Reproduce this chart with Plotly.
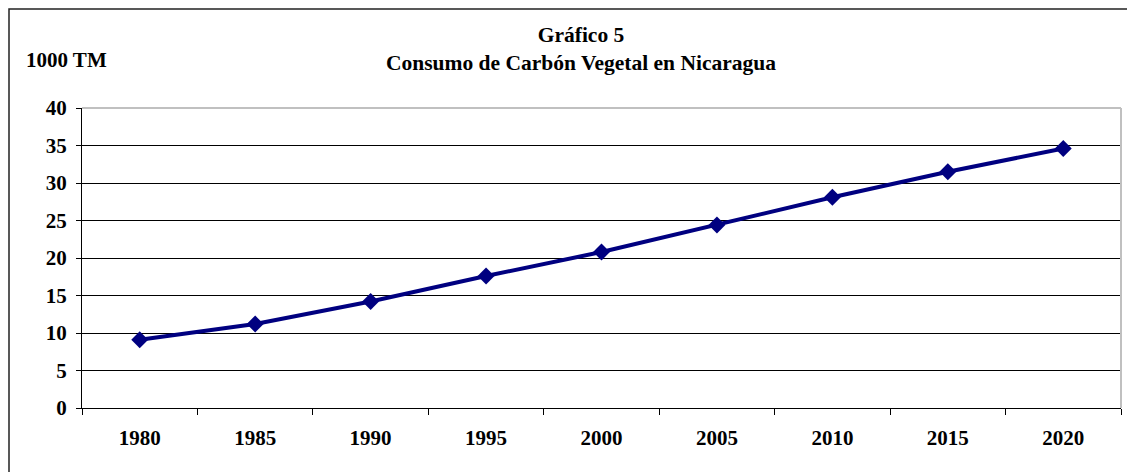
import plotly.graph_objects as go

years = ["1980", "1985", "1990", "1995", "2000", "2005", "2010", "2015", "2020"]
consumo = [9.1, 11.2, 14.2, 17.6, 20.8, 24.4, 28.1, 31.5, 34.6]
y_ticks = [0, 5, 10, 15, 20, 25, 30, 35, 40]

# page is rendered with an 8px body margin; compensate
OFF = 8
W, H = 1135, 472
PL, PR, PT, PB = 82, 1121, 108, 408          # target plot box in page pixels
L, T = PL - OFF, PT - OFF
R, B = W - (PR - OFF), H - (PB - OFF)
pw, ph = W - L - R, H - T - B

FONT = "Liberation Serif"
NAVY = "#000080"

fig = go.Figure()
fig.add_trace(go.Scatter(
    x=years, y=consumo, mode="lines+markers",
    line=dict(color=NAVY, width=4),
    marker=dict(symbol="diamond", size=13, color=NAVY),
    showlegend=False, cliponaxis=False,
))

def px_x(p):
    return (p - PL) / pw

def px_y(p):
    return (PB - p) / ph

bold = dict(family=FONT, size=21, color="black", weight="bold")

fig.update_layout(
    width=W, height=H,
    margin=dict(l=L, r=R, t=T, b=B),
    paper_bgcolor="white", plot_bgcolor="white",
    font=dict(family=FONT, color="black", size=21),
    title=dict(
        text="<b>Gráfico 5</b><br><b>Consumo de Carbón Vegetal en Nicaragua</b>",
        x=(581 - OFF) / W, xanchor="center", xref="container",
        y=1 - (42 - OFF) / H, yanchor="top", yref="container",
        font=dict(family=FONT, size=21.5, color="black"),
    ),
    xaxis=dict(
        type="category", tickson="boundaries", ticks="outside", ticklen=6,
        tickcolor="black", showline=True, linecolor="black", linewidth=1,
        showgrid=False, tickfont=bold,
        ticklabelstandoff=11, range=[-0.5, 8.5],
    ),
    yaxis=dict(
        range=[0, 40], tickvals=y_ticks, ticks="outside", ticklen=5,
        tickcolor="black", showline=True, linecolor="black", linewidth=1,
        showgrid=True, gridcolor="black", gridwidth=1, zeroline=False,
        tickfont=bold, ticklabelstandoff=5,
    ),
    annotations=[dict(
        text="<b>1000 TM</b>", xref="paper", yref="paper",
        x=px_x(24), y=px_y(60), xanchor="left", yanchor="middle",
        showarrow=False, font=dict(family=FONT, size=21, color="black"),
    )],
    shapes=[
        dict(type="line", xref="paper", yref="paper", x0=0, x1=1, y0=1, y1=1,
             line=dict(color="#c0c0c0", width=2), layer="above"),
        dict(type="line", xref="paper", yref="paper", x0=1, x1=1, y0=0, y1=1,
             line=dict(color="#c0c0c0", width=2), layer="above"),
        dict(type="rect", xref="paper", yref="paper",
             x0=px_x(9), x1=px_x(W + 20), y0=px_y(H + 20), y1=px_y(9),
             line=dict(color="#222222", width=1.5), layer="below"),
    ],
)

fig.write_html("out.html")
